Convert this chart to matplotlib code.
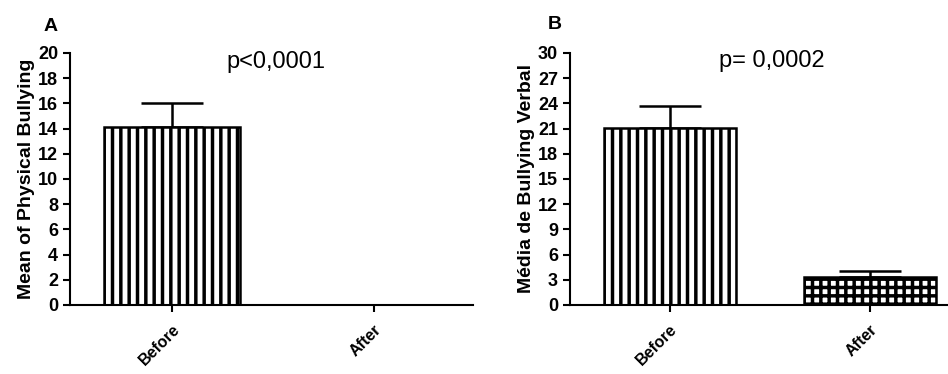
import matplotlib
matplotlib.use("Agg")
import matplotlib.pyplot as plt

# data
groups = ["Before", "After"]
physical_mean = [14.1, 0.0]
physical_err = [1.9, 0.0]
verbal_mean = [21.1, 3.3]
verbal_err = [2.6, 0.8]

plt.rcParams['font.family'] = ['Liberation Sans', 'DejaVu Sans']
plt.rcParams['hatch.linewidth'] = 2.5

fig = plt.figure(figsize=(9.48, 3.74), dpi=100)
axA = fig.add_axes([0.0738, 0.1845, 0.425, 0.6738])
axB = fig.add_axes([0.601, 0.1845, 0.405, 0.6738])


def style_axis(ax, ymax, step):
    for s in ['top', 'right']:
        ax.spines[s].set_visible(False)
    for s in ['left', 'bottom']:
        ax.spines[s].set_linewidth(1.5)
    ax.set_ylim(0, ymax)
    ax.set_yticks(range(0, ymax + 1, step))
    ax.tick_params(axis='both', direction='out', width=1.5, length=5)
    ax.tick_params(axis='x', pad=7)
    for lab in ax.get_yticklabels():
        lab.set_fontweight('bold')
        lab.set_fontsize(13)
    ax.set_xticks(range(len(groups)))
    ax.set_xticklabels(groups, rotation=45, ha='right', rotation_mode='anchor',
                       fontweight='bold', fontsize=11.5)


xs = range(len(groups))

# panel A
barsA = axA.bar(xs, physical_mean, width=0.67, color='white', edgecolor='black',
                linewidth=1.8, zorder=2)
barsA[0].set_hatch('||')
axA.errorbar([0], physical_mean[:1], yerr=[[0], physical_err[:1]], fmt='none',
             ecolor='black', elinewidth=1.8, capsize=22, capthick=1.8, zorder=1)
axA.set_xlim(-0.505, 1.49)
style_axis(axA, 20, 2)
axA.set_ylabel("Mean of Physical Bullying", fontweight='bold', fontsize=14, labelpad=2)
axA.text(0.51, 0.965, "p<0,0001", transform=axA.transAxes, fontsize=17,
         ha='center', va='center')
fig.text(0.046, 0.93, "A", fontsize=14, fontweight='bold', va='center')

# panel B
barsB = axB.bar(xs, verbal_mean, width=0.66, color='white', edgecolor='black',
                linewidth=1.8, zorder=2)
barsB[0].set_hatch('||')
barsB[1].set_hatch('++')
axB.errorbar(list(xs), verbal_mean, yerr=[[0, 0], verbal_err], fmt='none',
             ecolor='black', elinewidth=1.8, capsize=22, capthick=1.8, zorder=1)
axB.set_xlim(-0.5, 1.42)
style_axis(axB, 30, 3)
axB.set_ylabel("Média de Bullying Verbal", fontweight='bold', fontsize=14, labelpad=2)
axB.text(0.526, 0.97, "p= 0,0002", transform=axB.transAxes, fontsize=17,
         ha='center', va='center')
fig.text(0.578, 0.935, "B", fontsize=14, fontweight='bold', va='center')

fig.savefig("out.png", dpi=100)
